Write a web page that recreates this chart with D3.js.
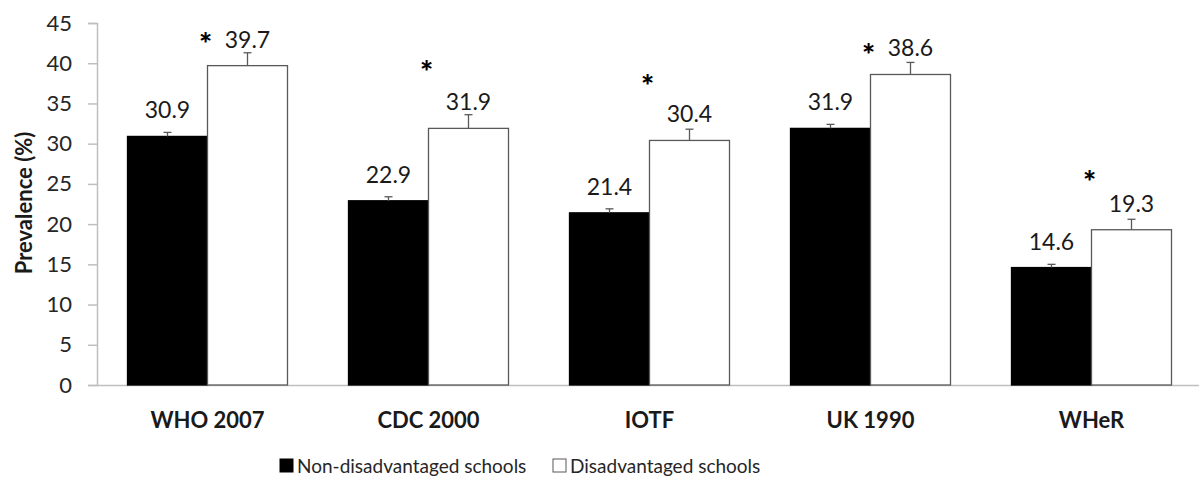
<!DOCTYPE html>
<html>
<head>
<meta charset="utf-8">
<script src="https://cdn.jsdelivr.net/npm/d3@7"></script>
<style>
  body { margin: 0; background: #fff; }
  text { font-family: Lato, "Open Sans", sans-serif; }
</style>
</head>
<body>
<div class="wrapper"></div>
<script>
// chart values
var categories = ["WHO 2007", "CDC 2000", "IOTF", "UK 1990", "WHeR"];
var series_names = ["Non-disadvantaged schools", "Disadvantaged schools"];
var non_disadv = [30.9, 22.9, 21.4, 31.9, 14.6];
var disadv = [39.7, 31.9, 30.4, 38.6, 19.3];
var non_disadv_err = [0.5, 0.5, 0.5, 0.5, 0.4];
var disadv_err = [1.6, 1.7, 1.4, 1.5, 1.3];
var star_level = [43.1, 39.6, 37.9, 41.8, 26.0];
var y_ticks = [0, 5, 10, 15, 20, 25, 30, 35, 40, 45];

var width = 1199, height = 488;
var left = 97, top_ = 23, bottom = 385;
var band = 221;

svg = d3
  .select(".wrapper")
  .append("svg")
  .attr("width", width)
  .attr("height", height);

var x = d3.scaleBand()
  .domain(categories)
  .range([left, left + band * categories.length])
  .paddingInner(0)
  .paddingOuter(0);

var y = d3.scaleLinear().domain([0, 45]).range([bottom, top_]);

var bar_w = 80;

////// AXES //////

var yAxis = svg.append("g")
  .attr("transform", "translate(" + left + ",0)")
  .call(d3.axisLeft(y).tickValues(y_ticks).tickSize(9).tickPadding(16));
yAxis.select(".domain").attr("stroke", "#bfbfbf").attr("stroke-width", 1.5);
yAxis.selectAll(".tick line").attr("stroke", "#bfbfbf").attr("stroke-width", 1.5);
yAxis.selectAll(".tick text")
  .style("font-size", "22px")
  .attr("fill", "#262626");

var xAxis = svg.append("g")
  .attr("transform", "translate(0," + bottom + ")")
  .call(d3.axisBottom(x).tickSize(0).tickPadding(0));
xAxis.select(".domain").attr("stroke", "#bfbfbf").attr("stroke-width", 1.5);
xAxis.selectAll(".tick text")
  .attr("y", 43)
  .attr("dy", 0)
  .style("font-size", "22px")
  .style("font-weight", "bold")
  .attr("fill", "#1a1a1a");

svg.append("text")
  .attr("transform", "translate(32," + 203 + ") rotate(-90)")
  .attr("text-anchor", "middle")
  .style("font-size", "22px")
  .style("font-weight", "bold")
  .attr("fill", "#1a1a1a")
  .text("Prevalence (%)");

////// BARS //////

var groups = svg.selectAll(".grp")
  .data(categories)
  .enter()
  .append("g")
  .attr("class", "grp");

function draw_series(vals, errs, offset, fill) {
  groups.append("rect")
    .attr("x", (d) => x(d) + x.bandwidth() / 2 + offset)
    .attr("y", (d, i) => y(vals[i]))
    .attr("width", bar_w)
    .attr("height", (d, i) => bottom - y(vals[i]))
    .attr("fill", fill)
    .attr("stroke", fill == "#000" ? "#000" : "#595959")
    .attr("stroke-width", 1.3);

  // error bars
  groups.append("line")
    .attr("x1", (d) => x(d) + x.bandwidth() / 2 + offset + bar_w / 2)
    .attr("x2", (d) => x(d) + x.bandwidth() / 2 + offset + bar_w / 2)
    .attr("y1", (d, i) => y(vals[i]))
    .attr("y2", (d, i) => y(vals[i] + errs[i]))
    .attr("stroke", "#595959")
    .attr("stroke-width", 1.3);
  groups.append("line")
    .attr("x1", (d) => x(d) + x.bandwidth() / 2 + offset + bar_w / 2 - 4)
    .attr("x2", (d) => x(d) + x.bandwidth() / 2 + offset + bar_w / 2 + 4)
    .attr("y1", (d, i) => y(vals[i] + errs[i]))
    .attr("y2", (d, i) => y(vals[i] + errs[i]))
    .attr("stroke", "#595959")
    .attr("stroke-width", 1.3);

  // value labels
  groups.append("text")
    .attr("x", (d) => x(d) + x.bandwidth() / 2 + offset + bar_w / 2)
    .attr("y", (d, i) => y(vals[i]) - 18)
    .attr("text-anchor", "middle")
    .style("font-size", "23px")
    .attr("fill", "#1a1a1a")
    .text((d, i) => vals[i].toFixed(1));
}

draw_series(non_disadv, non_disadv_err, -bar_w, "#000");
draw_series(disadv, disadv_err, 0, "#fff");

// significance stars
groups.append("text")
  .attr("x", (d) => x(d) + x.bandwidth() / 2 - 2)
  .attr("y", (d, i) => y(star_level[i]) + 17)
  .attr("text-anchor", "middle")
  .style("font-size", "31px")
  .style("font-weight", "900")
  .attr("fill", "#000")
  .text("*");

////// LEGEND //////

var legend_x = [280, 553];
var leg = svg.selectAll(".leg")
  .data(series_names)
  .enter()
  .append("g")
  .attr("class", "leg")
  .attr("transform", (d, i) => "translate(" + legend_x[i] + ",459)");

leg.append("rect")
  .attr("width", 13)
  .attr("height", 13)
  .attr("fill", (d, i) => i == 0 ? "#000" : "#fff")
  .attr("stroke", (d, i) => i == 0 ? "#000" : "#595959")
  .attr("stroke-width", 1);

leg.append("text")
  .attr("x", 17)
  .attr("y", 14)
  .style("font-size", "19px")
  .attr("fill", "#262626")
  .text((d) => d);
</script>
</body>
</html>
